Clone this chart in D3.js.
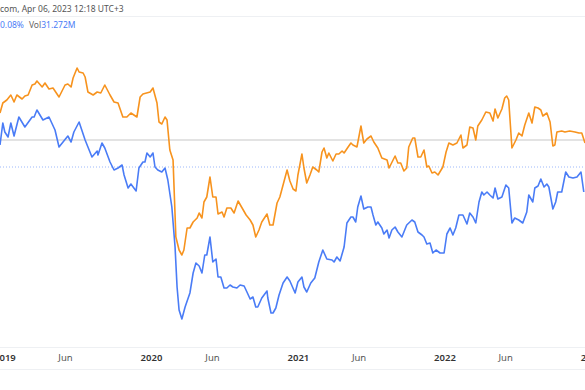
<!DOCTYPE html>
<html>
<head>
<meta charset="utf-8">
<script src="https://cdn.jsdelivr.net/npm/d3@7"></script>
<style>
  html, body { margin: 0; padding: 0; background: #fff; overflow: hidden; }
  svg { display: block; font-family: "Noto Sans", "Open Sans", sans-serif; }
</style>
</head>
<body>
<svg id="chart"></svg>
<script>
// orange series, % change (date, value)
const orangeSeries = [
  ["2018-12-21", 10.8], ["2018-12-28", 14.8], ["2019-01-07", 16], ["2019-01-17", 18], ["2019-01-25", 15.2],
  ["2019-02-01", 18], ["2019-02-14", 16.4], ["2019-02-21", 17.6], ["2019-03-01", 18], ["2019-03-11", 22],
  ["2019-03-18", 22.4], ["2019-03-23", 23.6], ["2019-04-05", 21.2], ["2019-04-12", 22.8], ["2019-04-22", 20.4],
  ["2019-05-02", 20.8], ["2019-05-17", 17.2], ["2019-06-01", 22], ["2019-06-08", 22.4], ["2019-06-16", 21.2],
  ["2019-06-21", 24.8], ["2019-07-01", 28.8], ["2019-07-06", 27.2], ["2019-07-16", 26.8], ["2019-07-21", 25.2],
  ["2019-07-28", 19.2], ["2019-08-10", 18], ["2019-08-20", 19.2], ["2019-08-29", 18.8], ["2019-09-08", 22],
  ["2019-09-21", 18], ["2019-10-01", 15.2], ["2019-10-11", 14.8], ["2019-10-23", 9.2], ["2019-11-02", 9.2],
  ["2019-11-12", 10.8], ["2019-11-27", 9.2], ["2019-12-05", 17.2], ["2019-12-12", 18.4], ["2019-12-30", 19.2],
  ["2020-01-06", 20.8], ["2020-01-16", 14.8], ["2020-01-21", 7.2], ["2020-01-28", 6.4], ["2020-02-05", 9.2],
  ["2020-02-10", 8], ["2020-02-17", -4], ["2020-02-25", -8], ["2020-03-03", -38.8], ["2020-03-11", -44],
  ["2020-03-18", -46], ["2020-03-23", -44], ["2020-03-31", -35.2], ["2020-04-07", -35.2], ["2020-04-15", -32.8],
  ["2020-04-25", -31.2], ["2020-04-30", -29.2], ["2020-05-07", -31.2], ["2020-05-12", -24.8], ["2020-05-19", -22.8],
  ["2020-05-27", -14.8], ["2020-06-03", -22.8], ["2020-06-11", -22.8], ["2020-06-16", -29.6], ["2020-06-26", -28.8],
  ["2020-07-01", -30.8], ["2020-07-08", -27.2], ["2020-07-18", -27.2], ["2020-07-26", -29.2], ["2020-08-05", -24.4],
  ["2020-08-15", -27.2], ["2020-08-25", -30], ["2020-09-04", -32], ["2020-09-11", -34], ["2020-09-18", -38.8],
  ["2020-09-26", -36], ["2020-10-03", -32.8], ["2020-10-16", -29.6], ["2020-10-23", -34], ["2020-10-31", -34],
  ["2020-11-10", -25.2], ["2020-11-17", -22.8], ["2020-11-25", -18], ["2020-12-05", -12], ["2020-12-12", -16.4],
  ["2020-12-20", -19.6], ["2020-12-27", -20.4], ["2021-01-01", -14], ["2021-01-11", -5.6], ["2021-01-16", -11.2],
  ["2021-01-23", -17.2], ["2021-01-31", -14], ["2021-02-07", -10.8], ["2021-02-17", -12], ["2021-02-22", -12.8],
  ["2021-03-02", -4.8], ["2021-03-07", -3.2], ["2021-03-14", -7.2], ["2021-03-19", -5.2], ["2021-03-29", -8.4],
  ["2021-04-06", -5.6], ["2021-04-13", -5.6], ["2021-04-21", -4.4], ["2021-04-26", -5.2], ["2021-05-06", -2.8],
  ["2021-05-13", -1.2], ["2021-05-18", -2], ["2021-05-28", -2.8], ["2021-06-07", 5.6], ["2021-06-14", -1.2],
  ["2021-06-22", 0.4], ["2021-07-02", 1.6], ["2021-07-09", -0.8], ["2021-07-19", -3.2], ["2021-07-29", -7.2],
  ["2021-08-11", -8], ["2021-08-16", -11.2], ["2021-08-26", -8], ["2021-08-31", -6.4], ["2021-09-07", -9.2],
  ["2021-09-14", -9.2], ["2021-09-22", -12.4], ["2021-09-29", -11.2], ["2021-10-04", -2.8], ["2021-10-14", 0.8],
  ["2021-10-19", 0.8], ["2021-10-27", -6.8], ["2021-11-03", -6.8], ["2021-11-11", -4], ["2021-11-18", -10.8],
  ["2021-11-23", -10.4], ["2021-12-01", -13.2], ["2021-12-08", -12.8], ["2021-12-16", -14], ["2021-12-28", -10.8],
  ["2022-01-05", -4.8], ["2022-01-12", -1.2], ["2022-01-22", -2], ["2022-02-01", -1.2], ["2022-02-11", 2],
  ["2022-02-16", -3.2], ["2022-02-26", -2], ["2022-03-05", 5.2], ["2022-03-13", 4.8], ["2022-03-20", 0],
  ["2022-03-25", 5.6], ["2022-04-04", 8], ["2022-04-14", 11.2], ["2022-04-24", 10.8], ["2022-05-02", 7.6],
  ["2022-05-07", 12.4], ["2022-05-14", 8.8], ["2022-05-24", 12.4], ["2022-05-31", 16.8], ["2022-06-05", 17.6],
  ["2022-06-10", 16], ["2022-06-18", -3.2], ["2022-06-28", 0], ["2022-07-05", 2.8], ["2022-07-13", 1.6],
  ["2022-07-20", 6], ["2022-07-30", 10.8], ["2022-08-07", 6.8], ["2022-08-14", 13.2], ["2022-08-22", 12.8],
  ["2022-08-29", 12], ["2022-09-03", 9.6], ["2022-09-13", 10.8], ["2022-09-21", 7.2], ["2022-09-28", -2.4],
  ["2022-10-03", -2], ["2022-10-08", 3.2], ["2022-10-20", 3.6], ["2022-10-28", 3.2], ["2022-11-09", 3.6],
  ["2022-11-22", 3.2], ["2022-12-02", 2.8], ["2022-12-09", 2.8], ["2022-12-17", -1.2]
];

// blue series, % change (date, value)
const blueSeries = [
  ["2018-12-21", -2], ["2018-12-28", 6.8], ["2019-01-02", 3.2], ["2019-01-10", 1.2], ["2019-01-17", 6.8],
  ["2019-01-25", 1.6], ["2019-02-06", 9.2], ["2019-02-21", 5.2], ["2019-03-11", 9.2], ["2019-03-16", 9.2],
  ["2019-03-23", 12], ["2019-04-07", 8], ["2019-04-22", 9.2], ["2019-05-07", 4], ["2019-05-17", -2.8],
  ["2019-05-27", -0.8], ["2019-06-08", 1.6], ["2019-06-16", -0.8], ["2019-06-23", 3.2], ["2019-07-06", 7.2],
  ["2019-07-21", 0], ["2019-08-07", -6.8], ["2019-08-20", -4.4], ["2019-08-22", -6], ["2019-09-01", -1.2],
  ["2019-09-08", -3.2], ["2019-09-21", -8.8], ["2019-10-01", -12], ["2019-10-11", -11.2], ["2019-10-21", -10],
  ["2019-10-26", -14], ["2019-11-05", -19.2], ["2019-11-12", -17.6], ["2019-11-25", -20.4], ["2019-12-02", -11.2],
  ["2019-12-12", -8.8], ["2019-12-17", -8.8], ["2019-12-22", -5.2], ["2019-12-30", -6.8], ["2020-01-06", -5.2],
  ["2020-01-11", -10.8], ["2020-01-18", -12], ["2020-01-28", -12.8], ["2020-02-05", -11.2], ["2020-02-12", -16],
  ["2020-02-22", -26.8], ["2020-03-01", -42.8], ["2020-03-06", -58.8], ["2020-03-11", -68], ["2020-03-18", -71.6],
  ["2020-03-26", -66.8], ["2020-04-07", -61.2], ["2020-04-15", -53.2], ["2020-04-22", -49.2], ["2020-04-30", -50.4],
  ["2020-05-07", -53.2], ["2020-05-14", -46], ["2020-05-19", -46], ["2020-05-27", -38.8], ["2020-06-03", -48.8],
  ["2020-06-11", -47.6], ["2020-06-16", -54.8], ["2020-06-23", -54.8], ["2020-07-01", -59.2], ["2020-07-08", -59.2],
  ["2020-07-16", -58], ["2020-07-23", -58.8], ["2020-08-02", -59.2], ["2020-08-10", -58], ["2020-08-20", -58.4],
  ["2020-08-27", -60.8], ["2020-09-04", -63.6], ["2020-09-11", -62.8], ["2020-09-18", -66.8], ["2020-09-23", -66.8],
  ["2020-10-03", -63.2], ["2020-10-16", -60.4], ["2020-10-18", -63.2], ["2020-10-26", -69.2], ["2020-10-31", -69.2],
  ["2020-11-07", -67.2], ["2020-11-15", -62], ["2020-11-25", -57.2], ["2020-12-05", -54.8], ["2020-12-12", -56.4],
  ["2020-12-25", -61.2], ["2021-01-01", -56.8], ["2021-01-11", -54.8], ["2021-01-16", -58.8], ["2021-01-23", -60.8],
  ["2021-02-02", -57.2], ["2021-02-12", -55.2], ["2021-02-22", -48.8], ["2021-03-04", -44], ["2021-03-14", -47.6],
  ["2021-03-27", -48], ["2021-04-01", -48.8], ["2021-04-08", -46.8], ["2021-04-16", -48.4], ["2021-04-26", -42.8],
  ["2021-05-03", -33.2], ["2021-05-13", -30.8], ["2021-05-18", -30.8], ["2021-05-25", -32.8], ["2021-05-30", -26.8],
  ["2021-06-07", -22.4], ["2021-06-14", -27.6], ["2021-06-24", -26.8], ["2021-07-02", -26.8], ["2021-07-07", -30],
  ["2021-07-14", -34], ["2021-07-19", -32.8], ["2021-07-29", -35.2], ["2021-08-03", -37.6], ["2021-08-11", -36],
  ["2021-08-16", -39.2], ["2021-08-23", -36], ["2021-08-31", -34.8], ["2021-09-07", -36.8], ["2021-09-17", -38.8],
  ["2021-09-29", -34], ["2021-10-12", -32], ["2021-10-19", -32.8], ["2021-10-27", -36.8], ["2021-11-06", -38],
  ["2021-11-11", -38.8], ["2021-11-18", -41.6], ["2021-11-26", -41.2], ["2021-12-03", -45.2], ["2021-12-11", -44],
  ["2021-12-21", -45.2], ["2021-12-31", -45.2], ["2022-01-07", -37.6], ["2022-01-15", -35.2], ["2022-01-22", -38],
  ["2022-01-29", -35.2], ["2022-02-06", -30], ["2022-02-16", -30], ["2022-02-26", -33.6], ["2022-03-05", -29.2],
  ["2022-03-13", -30.8], ["2022-03-20", -33.2], ["2022-03-28", -24.8], ["2022-04-04", -20.8], ["2022-04-09", -22],
  ["2022-04-17", -20.8], ["2022-04-24", -22], ["2022-05-02", -23.2], ["2022-05-07", -19.2], ["2022-05-14", -23.6],
  ["2022-05-24", -22.8], ["2022-06-03", -18], ["2022-06-10", -19.2], ["2022-06-18", -33.2], ["2022-06-25", -31.2],
  ["2022-07-05", -32], ["2022-07-15", -33.2], ["2022-07-25", -28.8], ["2022-07-30", -22], ["2022-08-09", -24.8],
  ["2022-08-14", -19.2], ["2022-08-22", -18.4], ["2022-08-29", -15.6], ["2022-09-06", -18.8], ["2022-09-13", -17.6],
  ["2022-09-18", -18.8], ["2022-09-28", -27.6], ["2022-10-05", -24.8], ["2022-10-10", -20.8], ["2022-10-20", -20.8],
  ["2022-10-30", -12.8], ["2022-11-07", -14.8], ["2022-11-17", -15.2], ["2022-11-27", -14.8], ["2022-12-07", -12.8],
  ["2022-12-14", -20.8]
];

// price lines (solid gray and dotted blue)
const grayLineValue = 0;
const blueLineValue = -10.8;

const tickDates = ["2019-01-01", "2019-06-01", "2020-01-01", "2020-06-01", "2021-01-01",
                   "2021-06-01", "2022-01-01", "2022-06-01", "2023-01-01"];
const tickLabels = ["2019", "Jun", "2020", "Jun", "2021", "Jun", "2022", "Jun", "2023"];

const headerText = "com, Apr 06, 2023 12:18 UTC+3";
const changeText = "0.08%";
const volLabel = "Vol";
const volText = "31.272M";

const ORANGE = "#f7931e";
const BLUE = "#4a7cf6";

const width = 585, height = 390;
const parse = d3.timeParse("%Y-%m-%d");

const svg = d3.select("#chart").attr("width", width).attr("height", height);

const x = d3.scaleTime()
  .domain([parse("2018-12-21"), parse("2022-12-17")])
  .range([0, width]);

const y = d3.scaleLinear()
  .domain([-80, 40])
  .range([340, 40]);

// header
svg.append("text")
  .attr("x", 0).attr("y", 12)
  .attr("font-size", 8.5).attr("fill", "#555")
  .text(headerText);

svg.append("line")
  .attr("x1", 0).attr("x2", width)
  .attr("y1", 16.5).attr("y2", 16.5)
  .attr("stroke", "#eef0f3");

let info = svg.append("text")
  .attr("x", 0).attr("y", 28)
  .attr("font-size", 8.5);
info.append("tspan").attr("fill", BLUE).text(changeText);
info.append("tspan").attr("fill", "#666").attr("dx", 5).text(volLabel);
info.append("tspan").attr("fill", BLUE).text(volText);

// price lines
svg.append("line")
  .attr("x1", 0).attr("x2", width)
  .attr("y1", y(grayLineValue)).attr("y2", y(grayLineValue))
  .attr("stroke", "#e3e3e3").attr("stroke-width", 2);

svg.append("line")
  .attr("x1", 0).attr("x2", width)
  .attr("y1", y(blueLineValue)).attr("y2", y(blueLineValue))
  .attr("stroke", "#9db8fa").attr("stroke-width", 1)
  .attr("stroke-dasharray", "1,2");

// series
let line = d3.line()
  .x(d => x(parse(d[0])))
  .y(d => y(d[1]))
  .curve(d3.curveLinear);

svg.append("path")
  .datum(orangeSeries)
  .attr("d", line)
  .attr("fill", "none")
  .attr("stroke", ORANGE)
  .attr("stroke-width", 1.6)
  .attr("stroke-linejoin", "round");

svg.append("path")
  .datum(blueSeries)
  .attr("d", line)
  .attr("fill", "none")
  .attr("stroke", BLUE)
  .attr("stroke-width", 1.6)
  .attr("stroke-linejoin", "round");

// time axis
svg.append("line")
  .attr("x1", 0).attr("x2", width)
  .attr("y1", 347.5).attr("y2", 347.5)
  .attr("stroke", "#eef0f3");
svg.append("line")
  .attr("x1", 0).attr("x2", width)
  .attr("y1", 369.5).attr("y2", 369.5)
  .attr("stroke", "#eef0f3");

let xAxis = d3.axisBottom(x)
  .tickValues(tickDates.map(parse))
  .tickFormat((d, i) => tickLabels[i])
  .tickSize(0)
  .tickPadding(0);

let axisG = svg.append("g")
  .attr("transform", "translate(0,354)")
  .call(xAxis);

axisG.select(".domain").remove();
axisG.selectAll("text")
  .attr("font-family", "\"Noto Sans\", sans-serif")
  .attr("font-size", 9.5)
  .attr("fill", (d, i) => tickLabels[i] == "Jun" ? "#555" : "#333")
  .attr("font-weight", (d, i) => tickLabels[i] == "Jun" ? 400 : 600);
</script>
</body>
</html>
